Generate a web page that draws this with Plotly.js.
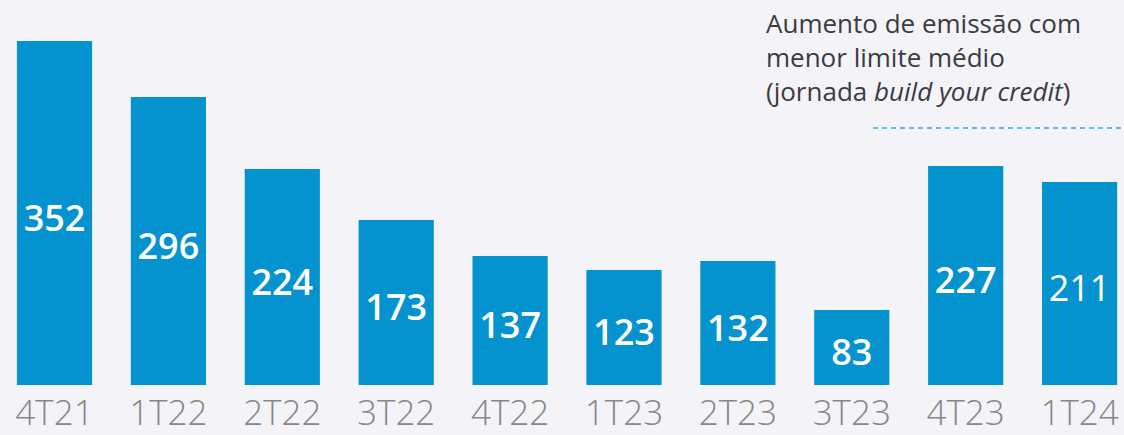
<!DOCTYPE html>
<html>
<head>
<meta charset="utf-8">
<script src="https://cdn.plot.ly/plotly-3.0.1.min.js"></script>
<style>html,body{margin:0;padding:0;background:#f3f3f8;}#chart{width:1124px;height:435px;}</style>
</head>
<body>
<div id="chart"></div>
<script>
var categories = ["4T21","1T22","2T22","3T22","4T22","1T23","2T23","3T23","4T23","1T24"];
var values = [352, 296, 224, 173, 137, 123, 132, 83, 227, 211];
var labelWeights = [600, 600, 600, 600, 600, 600, 600, 600, 600, 400];
var noteText = "Aumento de emissão com<br>menor limite médio<br>(jornada <i>build your credit</i>)";

var FONT = "Open Sans, Noto Sans, sans-serif";

var trace = {
  type: "bar",
  x: categories,
  y: values,
  marker: {color: "#0593cf"},
  text: values.map(String),
  textposition: "inside",
  insidetextanchor: "middle",
  textangle: 0,
  constraintext: "none",
  textfont: {family: FONT, size: 36, color: "#ffffff", weight: labelWeights},
  hoverinfo: "x+y"
};

var layout = {
  width: 1124,
  height: 435,
  margin: {l: 0, r: 0, t: 0, b: 50},
  paper_bgcolor: "#f3f3f8",
  plot_bgcolor: "#f3f3f8",
  bargap: 0.34,
  showlegend: false,
  xaxis: {
    type: "category",
    range: [-0.4785, 9.39],
    showgrid: false,
    zeroline: false,
    showline: false,
    ticks: "",
    ticklabelstandoff: 4,
    tickfont: {family: FONT, size: 35, color: "#878787", weight: 300},
    fixedrange: true
  },
  yaxis: {
    range: [8, 393],
    showgrid: false,
    zeroline: false,
    showline: false,
    showticklabels: false,
    fixedrange: true
  },
  annotations: [{
    xref: "paper", yref: "paper",
    x: 764/1124, y: (385 - 3) / 385,
    xanchor: "left", yanchor: "top",
    align: "left",
    showarrow: false,
    text: noteText,
    font: {family: FONT, size: 26, color: "#3b3b42"}
  }],
  shapes: [{
    type: "line", xref: "paper", yref: "paper",
    x0: 873/1124, x1: 1122/1124,
    y0: (385-128)/385, y1: (385-128)/385,
    line: {color: "#1ab2f0", width: 1.5, dash: "5px,4px"}
  }]
};

Plotly.newPlot("chart", [trace], layout, {displayModeBar: false, staticPlot: true});
</script>
</body>
</html>
